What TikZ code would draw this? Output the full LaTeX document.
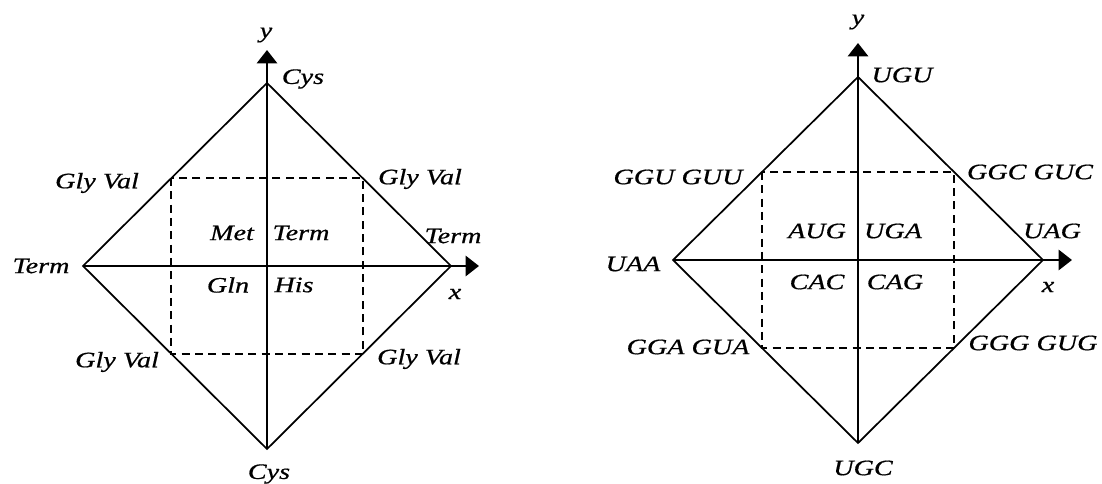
\documentclass[tikz,border=0pt]{standalone}
\usepackage{fontspec}
\newfontfamily\labfont[FakeStretch=1.28,FakeBold=0.6]{Liberation Serif}
\usetikzlibrary{arrows.meta}
\begin{document}
\begin{tikzpicture}[x=0.75pt,y=-0.75pt,
  lab/.style={inner sep=0pt,font={\labfont\itshape\fontsize{16.5pt}{19pt}\selectfont}},
  edge/.style={line width=1.3pt},
  axis/.style={line width=2.2pt,-{Triangle[length=10pt,width=15pt]}},
  grid/.style={line width=1.1pt,dash pattern=on 6pt off 4pt}]
\useasboundingbox (0,0) rectangle (1102,484);

% ---------- amino-acid diamond ----------
\coordinate (aT) at (267,83);
\coordinate (aB) at (267,449);
\coordinate (aL) at (83,266);
\coordinate (aR) at (451,266);
\coordinate (aX) at (479,266);
\coordinate (aY) at (267,50);
\coordinate (aD1) at (171,178);
\coordinate (aD2) at (363,354);

\draw[edge] (aL) -- (aT) -- (aR) -- (aB) -- cycle;
\draw[grid] (aD1) rectangle (aD2);
\draw[axis] (aL) -- (aX);
\draw[axis] (aB) -- (aY);

\node[lab] (ay)   at (266,35)  {y};
\node[lab] (ax)   at (455,294) {x};
\node[lab] (acT)  at (303,79)  {Cys};
\node[lab] (acB)  at (269,474) {Cys};
\node[lab] (atL)  at (41,266)  {Term};
\node[lab] (atR)  at (453,236) {Term};
\node[lab] (agUL) at (97,183)  {Gly Val};
\node[lab] (agUR) at (420,179) {Gly Val};
\node[lab] (agLL) at (117,362) {Gly Val};
\node[lab] (agLR) at (419,359) {Gly Val};
\node[lab] (amet) at (232,233) {Met};
\node[lab] (aterm) at (301,233) {Term};
\node[lab] (agln) at (228,285) {Gln};
\node[lab] (ahis) at (294,285) {His};

% ---------- codon diamond ----------
\coordinate (bT) at (858,77);
\coordinate (bB) at (858,443);
\coordinate (bL) at (673,260);
\coordinate (bR) at (1043,260);
\coordinate (bX) at (1072,260);
\coordinate (bY) at (858,43);
\coordinate (bD1) at (762,172);
\coordinate (bD2) at (954,348);

\draw[edge] (bL) -- (bT) -- (bR) -- (bB) -- cycle;
\draw[grid] (bD1) rectangle (bD2);
\draw[axis] (bL) -- (bX);
\draw[axis] (bB) -- (bY);

\node[lab] (by)   at (858,22)  {y};
\node[lab] (bx)   at (1048,287) {x};
\node[lab] (bugu) at (902,75)  {UGU};
\node[lab] (bugc) at (863,468) {UGC};
\node[lab] (buaa) at (633,264) {UAA};
\node[lab] (buag) at (1052,231) {UAG};
\node[lab] (bUL)  at (678,177) {GGU GUU};
\node[lab] (bUR)  at (1030,172) {GGC GUC};
\node[lab] (bLL)  at (688,347) {GGA GUA};
\node[lab] (bLR)  at (1033,343) {GGG GUG};
\node[lab] (baug) at (817,231) {AUG};
\node[lab] (buga) at (893,231) {UGA};
\node[lab] (bcac) at (817,282) {CAC};
\node[lab] (bcag) at (895,282) {CAG};
\end{tikzpicture}
\end{document}
